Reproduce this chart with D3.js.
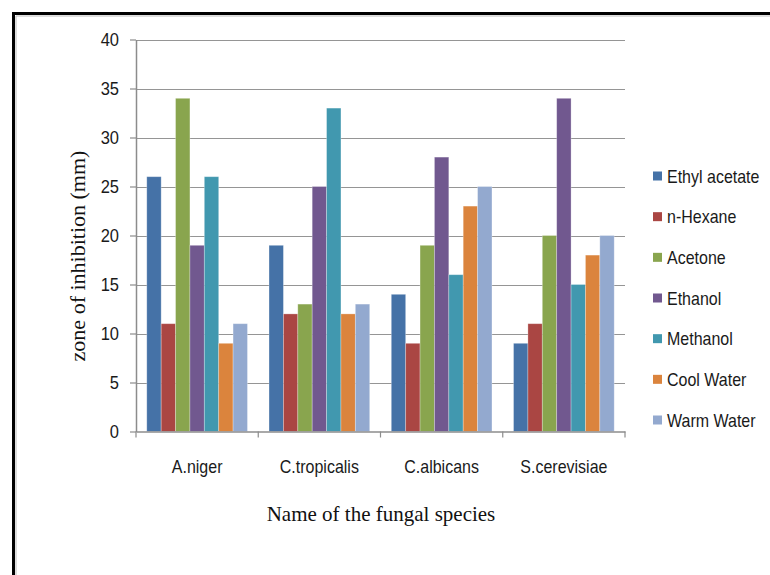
<!DOCTYPE html>
<html>
<head>
<meta charset="utf-8">
<script src="https://cdn.jsdelivr.net/npm/d3@7"></script>
<style>
  html, body { margin: 0; padding: 0; background: #ffffff; }
  svg { display: block; }
  .lbl { font-family: "Liberation Sans", Arial, sans-serif; fill: #1a1a1a; }
  .title { font-family: "Liberation Serif", "Times New Roman", serif; fill: #111; }
</style>
</head>
<body>
<svg id="chart" width="770" height="575"></svg>
<script>
// Fungal species along the x axis
const species = ["A.niger", "C.tropicalis", "C.albicans", "S.cerevisiae"];

// Extraction solvents (one bar per solvent in each group)
const solvents = ["Ethyl acetate", "n-Hexane", "Acetone", "Ethanol", "Methanol", "Cool Water", "Warm Water"];

// Zone of inhibition (mm), one array per solvent, ordered as `species`
const ethylAcetate = [26, 19, 14, 9];
const nHexane      = [11, 12, 9, 11];
const acetone      = [34, 13, 19, 20];
const ethanol      = [19, 25, 28, 34];
const methanol     = [26, 33, 16, 15];
const coolWater    = [9, 12, 23, 18];
const warmWater    = [11, 13, 25, 20];

const yTicks = [0, 5, 10, 15, 20, 25, 30, 35, 40];

const seriesValues = [ethylAcetate, nHexane, acetone, ethanol, methanol, coolWater, warmWater];
const colors = ["#4572A7", "#AA4643", "#89A54E", "#71588F", "#4198AF", "#DB843D", "#93A9CF"];

const svg = d3.select("#chart");

// Frame around the chart
svg.append("line").attr("x1", 13.5).attr("y1", 13.5).attr("x2", 770).attr("y2", 13.5)
  .attr("stroke", "#000").attr("stroke-width", 3);
svg.append("line").attr("x1", 13.5).attr("y1", 12).attr("x2", 13.5).attr("y2", 575)
  .attr("stroke", "#000").attr("stroke-width", 3);
svg.append("line").attr("x1", 16).attr("y1", 16).attr("x2", 770).attr("y2", 16)
  .attr("stroke", "#bbb").attr("stroke-width", 1);
svg.append("line").attr("x1", 16).attr("y1", 16).attr("x2", 16).attr("y2", 575)
  .attr("stroke", "#bbb").attr("stroke-width", 1);

const plot = { left: 136, right: 625, top: 39.5, bottom: 431.5 };

const x0 = d3.scaleBand().domain(species).range([plot.left, plot.right]).paddingInner(0).paddingOuter(0);
// 150% gap: bars occupy 7 / (7 + 1.5) of each category slot
const groupW = x0.bandwidth() * 7 / 8.5;
const x1 = d3.scaleBand().domain(solvents).range([0, groupW]).padding(0);
const y = d3.scaleLinear().domain([0, 40]).range([plot.bottom, plot.top]);

// Sans labels are drawn slightly taller than wide
const STRETCH = 1.15;
function label(parent, tx, ty, txt, anchor, size) {
  return parent.append("text")
    .attr("class", "lbl")
    .attr("transform", `translate(${tx},${ty}) scale(1,${STRETCH})`)
    .attr("text-anchor", anchor)
    .attr("font-size", size)
    .text(txt);
}

// Horizontal gridlines
svg.append("g")
  .selectAll("line")
  .data(yTicks.filter(t => t > 0))
  .join("line")
  .attr("x1", plot.left).attr("x2", plot.right)
  .attr("y1", d => Math.round(y(d)) + 0.5).attr("y2", d => Math.round(y(d)) + 0.5)
  .attr("stroke", "#959595").attr("stroke-width", 1.2);

// Bars
const groups = svg.append("g")
  .selectAll("g")
  .data(species)
  .join("g")
  .attr("transform", d => `translate(${x0(d) + (x0.bandwidth() - groupW) / 2},0)`);

groups.selectAll("rect")
  .data((d, i) => solvents.map((s, k) => ({ s, k, v: seriesValues[k][i] })))
  .join("rect")
  .attr("x", d => x1(d.s))
  .attr("width", x1.bandwidth())
  .attr("y", d => y(d.v))
  .attr("height", d => y(0) - y(d.v))
  .attr("fill", d => colors[d.k])
  .attr("stroke", "rgba(255,255,255,0.35)")
  .attr("stroke-width", 0.8);

// Y axis (line and ticks from d3, labels drawn stretched)
const yAxis = svg.append("g")
  .attr("transform", `translate(${plot.left},0)`)
  .call(d3.axisLeft(y).tickValues(yTicks).tickSize(6).tickSizeOuter(0).tickFormat(""));
yAxis.select(".domain").attr("stroke", "#8c8c8c").attr("stroke-width", 1.5);
yAxis.selectAll(".tick line").attr("stroke", "#8c8c8c").attr("stroke-width", 1.2);
const yLabels = svg.append("g");
yTicks.forEach(t => label(yLabels, 119, y(t) + 6.5, d3.format("d")(t), "end", 16.5));

// X axis
const xAxis = svg.append("g")
  .attr("transform", `translate(0,${plot.bottom})`)
  .call(d3.axisBottom(x0).tickSize(0).tickFormat(""));
xAxis.select(".domain").attr("stroke", "#8c8c8c").attr("stroke-width", 1.5);
// category dividers
svg.append("g")
  .selectAll("line")
  .data(species.map(s => x0(s)).concat([plot.right]))
  .join("line")
  .attr("x1", d => d).attr("x2", d => d)
  .attr("y1", plot.bottom).attr("y2", plot.bottom + 6)
  .attr("stroke", "#8c8c8c").attr("stroke-width", 1.2);

const xLabels = svg.append("g");
species.forEach(s => label(xLabels, x0(s) + x0.bandwidth() / 2, 473, s, "middle", 16));

// Axis titles
svg.append("text")
  .attr("class", "title")
  .attr("x", 381).attr("y", 521)
  .attr("text-anchor", "middle")
  .attr("font-size", 21)
  .text("Name of the fungal species");

svg.append("text")
  .attr("class", "title")
  .attr("transform", "translate(85,256) rotate(-90)")
  .attr("text-anchor", "middle")
  .attr("font-size", 22)
  .text("zone of inhibition (mm)");

// Legend
const legend = svg.append("g");
const legY = d3.scalePoint().domain(solvents).range([176, 420]);
solvents.forEach((s, i) => {
  legend.append("rect")
    .attr("x", 653).attr("y", legY(s) - 4.5).attr("width", 9).attr("height", 9)
    .attr("fill", colors[i]);
  label(legend, 667, legY(s) + 6.5, s, "start", 16);
});
</script>
</body>
</html>
